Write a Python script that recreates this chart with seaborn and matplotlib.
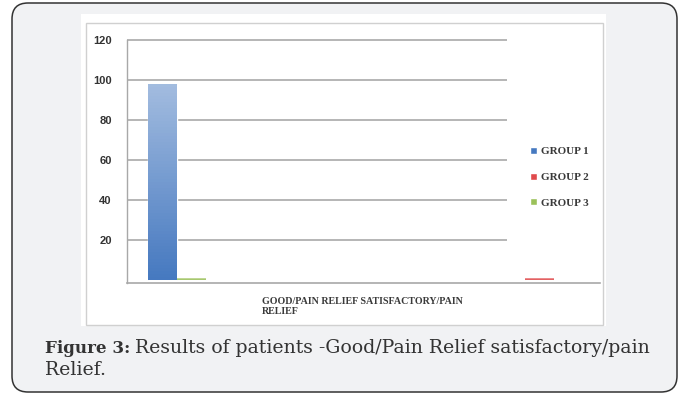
import numpy as np
import pandas as pd
import matplotlib
matplotlib.use("Agg")
import matplotlib.pyplot as plt
import seaborn as sns
from matplotlib.patches import FancyBboxPatch, Rectangle
from matplotlib.transforms import IdentityTransform
from matplotlib.font_manager import FontProperties

# ---------------- data ----------------
CATEGORIES = ["GOOD/PAIN RELIEF", "SATISFACTORY/PAIN RELIEF"]
GROUPS = ["GROUP 1", "GROUP 2", "GROUP 3"]
GROUP1 = [98, 0]
GROUP2 = [0, 1]
GROUP3 = [1, 0]
YTICKS = [20, 40, 60, 80, 100, 120]
COLORS = {"GROUP 1": "#4679c0", "GROUP 2": "#e04a4c", "GROUP 3": "#9bc15a"}
CAPTION_BOLD = "Figure 3:"
CAPTION_TEXT = "Results of patients -Good/Pain Relief satisfactory/pain"
CAPTION_LINE2 = "Relief."

df = pd.DataFrame({
    "category": CATEGORIES * 3,
    "group": [g for g in GROUPS for _ in CATEGORIES],
    "value": GROUP1 + GROUP2 + GROUP3,
})

sns.set_style("white")
W, H = 683, 394
fig = plt.figure(figsize=(W / 100, H / 100), dpi=100)
fig.patch.set_facecolor("white")

# rounded grey panel
panel = FancyBboxPatch((12, H - 392), 677 - 12, 392 - 3,
                       boxstyle="round,pad=0,rounding_size=16",
                       transform=IdentityTransform(), facecolor="#f1f2f4",
                       edgecolor="#333333", linewidth=1.1, zorder=-5)
fig.patches.append(panel)
# white chart image
img = Rectangle((81, H - 326), 606 - 81, 326 - 14, transform=IdentityTransform(),
                facecolor="white", edgecolor="none", zorder=-4)
fig.patches.append(img)
frame = Rectangle((86, H - 325), 603 - 86, 325 - 23, transform=IdentityTransform(),
                  facecolor="none", edgecolor="#d0d0d0", linewidth=1.0, zorder=-3)
fig.patches.append(frame)

# axes
ax_l, ax_r, ax_t, ax_b = 127, 600, 40, 283
ax = fig.add_axes([ax_l / W, (H - ax_b) / H, (ax_r - ax_l) / W, (ax_b - ax_t) / H])
ax.set_facecolor("none")

sns.barplot(data=df, x="category", y="value", hue="group",
            order=CATEGORIES, hue_order=["GROUP 1", "GROUP 3", "GROUP 2"],
            palette=COLORS, width=0.27, saturation=1, ax=ax, zorder=2)

XLIM = (-0.202, 1.281)
YLIM = (-1.5, 120)

# gradient fill on bars
for p in list(ax.patches):
    h = p.get_height()
    if h <= 0:
        continue
    base = np.array(p.get_facecolor()[:3])
    top = base * 0.5 + 0.5
    t = np.linspace(0, 1, 64)[:, None]
    grad = (top[None, :] * (1 - t) + base[None, :] * t)[:, None, :]
    im = ax.imshow(grad, extent=[p.get_x(), p.get_x() + p.get_width(),
                                 p.get_y(), p.get_y() + h],
                   origin="upper", aspect="auto", zorder=2.1)
    im.set_clip_path(p)

ax.set_xlim(*XLIM)
ax.set_ylim(*YLIM)

# gridlines (stop before legend area)
ax.hlines(YTICKS, 0, (507 - ax_l) / (ax_r - ax_l), transform=ax.get_yaxis_transform(),
          colors="#b0b0b0", linewidth=1.3, zorder=1, clip_on=False)

ax.set_yticks(YTICKS)
ax.tick_params(axis="y", length=4, width=1, color="#a8a8a8", pad=7,
               labelsize=8, labelcolor="#333333")
for lab in ax.get_yticklabels():
    lab.set_fontfamily("Liberation Sans")
    lab.set_fontweight("bold")
ax.set_xticks([])
ax.set_xlabel("")
ax.set_ylabel("")
for s in ["top", "right"]:
    ax.spines[s].set_visible(False)
ax.spines["left"].set_color("#a8a8a8")
ax.spines["left"].set_linewidth(1.0)
ax.spines["bottom"].set_color("#a8a8a8")
ax.spines["bottom"].set_linewidth(1.2)

# legend in GROUP order
handles, labels = ax.get_legend_handles_labels()
hmap = dict(zip(labels, handles))
leg = ax.legend([hmap[g] for g in GROUPS], GROUPS, loc="upper left",
                bbox_to_anchor=(530 / W, 1 - 147 / H), bbox_transform=fig.transFigure,
                frameon=False, prop=FontProperties(family="Liberation Serif", weight="bold", size=8),
                handlelength=0.6, handleheight=0.6, handletextpad=0.35,
                labelspacing=1.45, borderpad=0, borderaxespad=0)
for txt in leg.get_texts():
    txt.set_color("#3a3a3a")

# category label (two category names on one wrapped label)
joined = " ".join(CATEGORIES)
head, tail = joined.rsplit(" ", 1)
fig.text(262 / W, 1 - 314 / H, head + "\n" + tail, ha="left", va="baseline",
         fontfamily="Liberation Serif", fontweight="bold", fontsize=7.2,
         color="#3a3a3a", linespacing=1.1)

# caption
cap_kw = dict(fontfamily="DejaVu Serif", color="#333333", va="baseline")
tb = fig.text(45 / W, 1 - 353 / H, CAPTION_BOLD, fontweight="bold", fontsize=12.1, **cap_kw)
fig.canvas.draw()
bb = tb.get_window_extent(fig.canvas.get_renderer())
fig.text((bb.x1 + 5) / W, 1 - 353 / H, CAPTION_TEXT, fontsize=13.6, **cap_kw)
fig.text(45 / W, 1 - 375 / H, CAPTION_LINE2, fontsize=13.6, **cap_kw)

fig.savefig("out.png", dpi=100, facecolor=fig.get_facecolor())
